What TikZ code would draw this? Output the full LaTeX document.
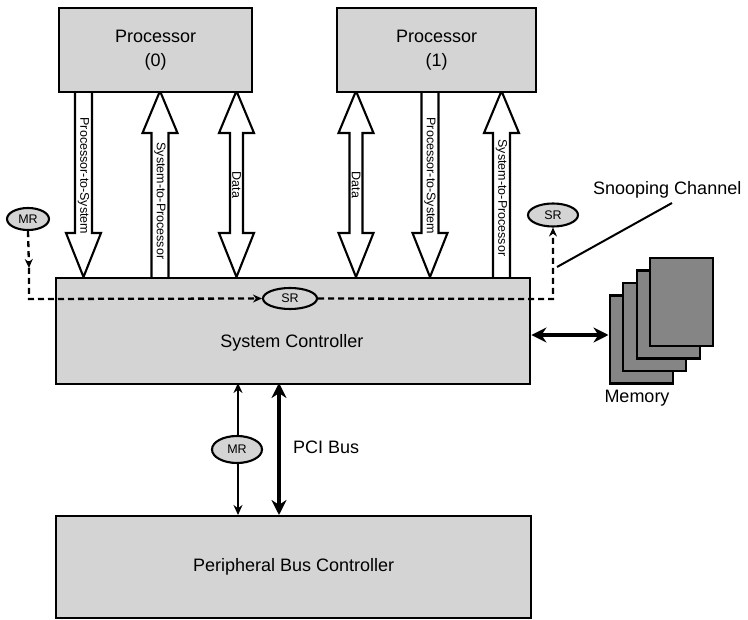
\documentclass[tikz,border=0pt]{standalone}
\usepackage{fontspec}
\setmainfont{Liberation Sans}
\usetikzlibrary{arrows.meta,shapes.geometric,calc}

\definecolor{boxgray}{gray}{0.83}
\definecolor{memgray}{gray}{0.52}

% hollow block arrows between a processor and the system controller
% #1 centre x, #2 upper end y, #3 lower end y
\newcommand\blockdown[3]{%
  \draw[blockarrow] (#1-8.5,#2) -- (#1-8.5,#3-44) -- (#1-17.5,#3-44) -- (#1,#3)
    -- (#1+17.5,#3-44) -- (#1+8.5,#3-44) -- (#1+8.5,#2);}
\newcommand\blockup[3]{%
  \draw[blockarrow] (#1-8.5,#3) -- (#1-8.5,#2+42) -- (#1-17.5,#2+42) -- (#1,#2)
    -- (#1+17.5,#2+42) -- (#1+8.5,#2+42) -- (#1+8.5,#3);}
\newcommand\blockboth[3]{%
  \draw[blockarrow] (#1,#2) -- (#1+17.5,#2+42) -- (#1+6.5,#2+42) -- (#1+6.5,#3-44)
    -- (#1+17.5,#3-44) -- (#1,#3) -- (#1-17.5,#3-44) -- (#1-6.5,#3-44)
    -- (#1-6.5,#2+42) -- (#1-17.5,#2+42) -- cycle;}

\tikzset{
  unit/.style={draw, line width=2.4pt, fill=boxgray, inner sep=0pt,
    anchor=north west, font=\fontsize{18}{24}\selectfont, align=center},
  blockarrow/.style={draw, line width=2.1pt, fill=white, line join=miter},
  buslabel/.style={rotate=-90, font=\fontsize{12.5}{14}\selectfont, inner sep=0pt},
  req/.style={ellipse, draw, line width=2.1pt, fill=boxgray, inner sep=0pt,
    font=\fontsize{12.5}{14}\selectfont},
  snoop/.style={line width=2.3pt, dash pattern=on 6pt off 4pt},
  snooptip/.style={-{Stealth[length=9pt,width=8pt]}},
  lbl/.style={font=\fontsize{18}{22}\selectfont, inner sep=0pt},
  mem/.style={draw, line width=2.4pt, fill=memgray, minimum width=63pt,
    minimum height=88pt, inner sep=0pt, anchor=north west},
}

\begin{document}
\begin{tikzpicture}[x=1pt, y=-1pt]
\useasboundingbox (0,0) rectangle (748,620);

% processor 0 buses
\blockdown{83.5}{91}{277}
\blockup{160}{91}{277}
\blockboth{236.5}{91}{277}
% processor 1 buses
\blockboth{356}{91}{277}
\blockdown{430}{91}{277}
\blockup{501.5}{91}{277}

% units
\node[unit, minimum width=193pt, minimum height=84pt] (p0) at (58,7) {Processor\\(0)};
\node[unit, minimum width=199pt, minimum height=84pt] (p1) at (336,7) {Processor\\(1)};
\node[unit, minimum width=474pt, minimum height=106pt] (sc) at (55,277) {};
\node[unit, minimum width=475pt, minimum height=102pt] (pbc) at (55,515) {Peripheral Bus Controller};
\node[lbl] (sclabel) at (292,343) {System Controller};

% bus labels
\node[buslabel] (l1) at (83.5,176) {Processor-to-System};
\node[buslabel] (l2) at (160,201) {System-to-Processor};
\node[buslabel] (l3) at (236.5,185) {Data};
\node[buslabel] (l4) at (356,185) {Data};
\node[buslabel] (l5) at (430,176) {Processor-to-System};
\node[buslabel] (l6) at (501.5,198) {System-to-Processor};

% request markers
\node[req, minimum width=42pt, minimum height=22pt] (mr1) at (28,219) {MR};
\node[req, minimum width=54pt, minimum height=21pt] (sr1) at (290,298.5) {SR};
\node[req, minimum width=50pt, minimum height=23pt] (sr2) at (553,215) {SR};

% snooping channel
\coordinate (c1) at (29,299);
\coordinate (c2) at (553,299);
\coordinate (cm) at (29,268);
\draw[snoop, snooptip] (mr1.south) -- (cm);
\draw[snoop, snooptip] (cm) -- (c1) -- (sr1.west);
\draw[snoop, snooptip] (sr1.east) -- (c2) -- (sr2.south);
\node[lbl, anchor=west] (snooplabel) at (593,190) {Snooping Channel};
\coordinate (s1) at (557,267);
\coordinate (s2) at (672,203);
\draw[line width=2pt] (s1) -- (s2);

% memory banks, front one last
\node[mem] (m1) at (608.5,294.5) {};
\node[mem] (m2) at (622,282) {};
\node[mem] (m3) at (635.5,269.5) {};
\node[mem] (m4) at (649,257) {};
\node[lbl] (memlabel) at (637,398) {Memory};
\draw[line width=4pt, {Stealth[length=15pt,width=15pt]}-{Stealth[length=15pt,width=15pt]}]
  (sc.east |- 0,335) -- (m1.west |- 0,335);

% PCI bus
\coordinate (pa) at (238,383);
\coordinate (pb) at (238,515);
\draw[line width=1.5pt, {Stealth[length=10pt,width=9pt]}-{Stealth[length=10pt,width=9pt]}]
  (pa) -- (pb);
\node[req, minimum width=50pt, minimum height=27pt] (mr2) at (237,449.5) {MR};
\coordinate (qa) at (279,383);
\coordinate (qb) at (279,515);
\draw[line width=4.5pt, {Stealth[length=15pt,width=15pt]}-{Stealth[length=15pt,width=15pt]}]
  (qa) -- (qb);
\node[lbl, anchor=west] (pcilabel) at (293,447) {PCI Bus};
\end{tikzpicture}
\end{document}
